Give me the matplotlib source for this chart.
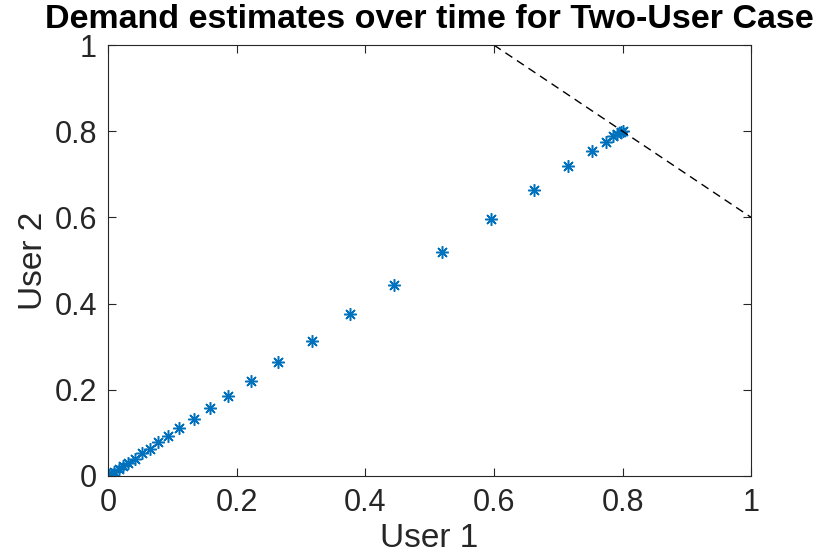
import matplotlib
matplotlib.use('Agg')
import matplotlib.pyplot as plt

# demand estimates (user 1, user 2)
user1 = [0.0, 0.002, 0.005, 0.010, 0.017, 0.024, 0.032, 0.042, 0.053, 0.065,
         0.078, 0.094, 0.110, 0.134, 0.158, 0.187, 0.222, 0.264, 0.317, 0.376,
         0.445, 0.520, 0.595, 0.663, 0.716, 0.753, 0.774, 0.786, 0.792, 0.797,
         0.800]
user2 = [0.0, 0.002, 0.005, 0.010, 0.017, 0.024, 0.031, 0.040, 0.053, 0.063,
         0.078, 0.093, 0.111, 0.133, 0.157, 0.186, 0.221, 0.265, 0.314, 0.376,
         0.443, 0.520, 0.597, 0.664, 0.719, 0.753, 0.774, 0.789, 0.793, 0.798,
         0.800]

# capacity boundary
bound_x = [0.6, 1.0]
bound_y = [1.0, 0.6]

plt.rcParams['font.family'] = ['Liberation Sans', 'DejaVu Sans']

fig = plt.figure(figsize=(8.3, 5.56), dpi=100)
ax = fig.add_axes([0.130, 0.144, 0.775, 0.775])

# matlab-style asterisk: 8 spokes
ax.plot(user1, user2, linestyle='none', marker=(8, 2, 0), color='#0072BD',
        markersize=9, markeredgewidth=1.1)
ax.plot(bound_x, bound_y, 'k--', linewidth=1.0, dashes=(6, 4))

ax.set_xlim(0, 1)
ax.set_ylim(0, 1)
ax.set_xticks([0, 0.2, 0.4, 0.6, 0.8, 1])
ax.set_yticks([0, 0.2, 0.4, 0.6, 0.8, 1])
ax.set_xticklabels(['0', '0.2', '0.4', '0.6', '0.8', '1'])
ax.set_yticklabels(['0', '0.2', '0.4', '0.6', '0.8', '1'])
ax.tick_params(direction='in', top=True, right=True, length=6, width=0.8,
               labelsize=22, colors='#262626')
ax.tick_params(axis='y', pad=8)
ax.tick_params(axis='x', pad=9)
for s in ax.spines.values():
    s.set_linewidth(0.8)
    s.set_color('#262626')

ax.set_xlabel('User 1', fontsize=24, color='#262626', labelpad=3)
ax.set_ylabel('User 2', fontsize=24, color='#262626', labelpad=4)
ax.set_title('Demand estimates over time for Two-User Case', fontsize=24.5,
             fontweight='bold', pad=12)

plt.savefig('out.png')
plt.close()
